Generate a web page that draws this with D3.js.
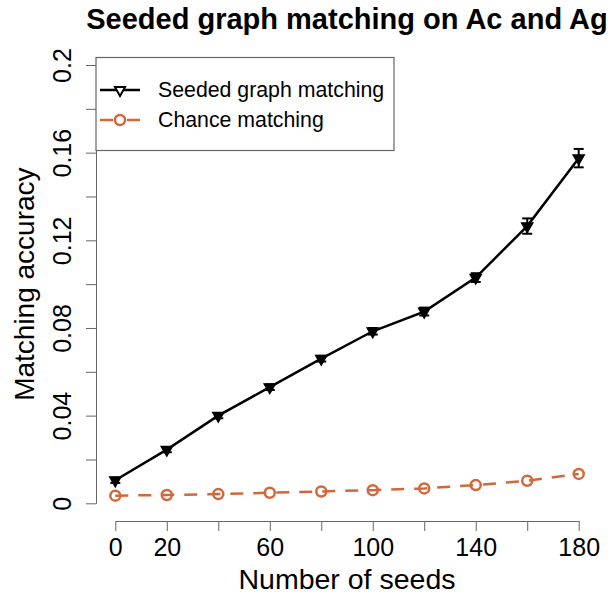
<!DOCTYPE html>
<html>
<head>
<meta charset="utf-8">
<script src="https://cdn.jsdelivr.net/npm/d3@7"></script>
<style>
  body { margin: 0; background: #fff; }
  svg { display: block; font-family: "Liberation Sans", Arial, sans-serif; }
</style>
</head>
<body>
<svg width="611" height="596"></svg>
<script>
// Data
const seeds = [0, 20, 40, 60, 80, 100, 120, 140, 160, 180];
const seededAcc = [0.0105, 0.0245, 0.0400, 0.0530, 0.0660, 0.0785, 0.0875, 0.1030, 0.1265, 0.1575];
const seededErr = [0.0012, 0.0012, 0.0012, 0.0013, 0.0013, 0.0015, 0.0018, 0.0020, 0.0035, 0.0042];
const chanceAcc = [0.0035, 0.0038, 0.0042, 0.0048, 0.0054, 0.0060, 0.0068, 0.0083, 0.0103, 0.0134];

const xLabeled = [0, 20, 60, 100, 140, 180];
const yTicks = [0, 0.02, 0.04, 0.06, 0.08, 0.10, 0.12, 0.14, 0.16, 0.18, 0.2];
const yLabeled = [0, 0.04, 0.08, 0.12, 0.16, 0.2];
const legendLabels = ["Seeded graph matching", "Chance matching"];

const svg = d3.select("svg");
const orange = "#d2673b";
const axisColor = "#666";

//Scales
const x = d3.scaleLinear().domain([0, 180]).range([115.3, 578.7]);
const y = d3.scaleLinear().domain([0, 0.2]).range([503.3, 65]);
const axisY = 521;
const axisX = 96;

//Title
svg.append("text")
    .attr("x", (x.range()[0] + x.range()[1]) / 2)
    .attr("y", 29)
    .attr("text-anchor", "middle")
    .attr("font-size", "29px")
    .attr("font-weight", "bold")
    .text("Seeded graph matching on Ac and Ag");

//X axis
const xAxis = svg.append("g")
    .attr("transform", `translate(0, ${axisY})`)
    .call(d3.axisBottom(x)
        .tickValues(seeds)
        .tickSize(10)
        .tickSizeOuter(0)
        .tickFormat(d => xLabeled.includes(d) ? d : ""));
xAxis.select(".domain").attr("stroke", axisColor);
xAxis.selectAll(".tick line").attr("stroke", axisColor);
xAxis.selectAll(".tick text")
    .attr("y", 35)
    .attr("dy", 0)
    .attr("fill", "black")
    .attr("font-size", "25px")
    .attr("font-family", null);

//Y axis, labels rotated like R's default
const yAxis = svg.append("g")
    .attr("transform", `translate(${axisX}, 0)`)
    .call(d3.axisLeft(y)
        .tickValues(yTicks)
        .tickSize(10)
        .tickSizeOuter(0)
        .tickFormat(d => yLabeled.some(v => Math.abs(v - d) < 1e-9) ? String(+d.toFixed(2)) : ""));
yAxis.select(".domain").attr("stroke", axisColor);
yAxis.selectAll(".tick line").attr("stroke", axisColor);
yAxis.selectAll(".tick text")
    .attr("x", 0)
    .attr("dy", 0)
    .attr("text-anchor", "middle")
    .attr("transform", "translate(-25, 0) rotate(-90)")
    .attr("fill", "black")
    .attr("font-size", "25px")
    .attr("font-family", null);

//Axis titles
svg.append("text")
    .attr("x", (x.range()[0] + x.range()[1]) / 2)
    .attr("y", 589)
    .attr("text-anchor", "middle")
    .attr("font-size", "28.5px")
    .text("Number of seeds");

svg.append("text")
    .attr("transform", `translate(34, ${(y.range()[0] + y.range()[1]) / 2}) rotate(-90)`)
    .attr("text-anchor", "middle")
    .attr("font-size", "28px")
    .text("Matching accuracy");

//Chance matching line
const chanceData = seeds.map((s, i) => ({ s, v: chanceAcc[i] }));
svg.append("path")
    .datum(chanceData)
    .attr("d", d3.line().x(d => x(d.s)).y(d => y(d.v)))
    .attr("fill", "none")
    .attr("stroke", orange)
    .attr("stroke-width", 2.5)
    .attr("stroke-dasharray", "13,10");

svg.selectAll(".chance")
    .data(chanceData)
    .enter()
    .append("circle")
    .attr("class", "chance")
    .attr("cx", d => x(d.s))
    .attr("cy", d => y(d.v))
    .attr("r", 5)
    .attr("fill", "none")
    .attr("stroke", orange)
    .attr("stroke-width", 2.5);

//Seeded matching line with error bars
const seededData = seeds.map((s, i) => ({ s, v: seededAcc[i], e: seededErr[i] }));
svg.append("path")
    .datum(seededData)
    .attr("d", d3.line().x(d => x(d.s)).y(d => y(d.v)))
    .attr("fill", "none")
    .attr("stroke", "black")
    .attr("stroke-width", 2.5);

const bars = svg.selectAll(".err")
    .data(seededData)
    .enter()
    .append("g")
    .attr("class", "err")
    .attr("stroke", "black")
    .attr("stroke-width", 2);
bars.append("line")
    .attr("x1", d => x(d.s)).attr("x2", d => x(d.s))
    .attr("y1", d => y(d.v - d.e)).attr("y2", d => y(d.v + d.e));
bars.append("line")
    .attr("x1", d => x(d.s) - 5).attr("x2", d => x(d.s) + 5)
    .attr("y1", d => y(d.v - d.e)).attr("y2", d => y(d.v - d.e));
bars.append("line")
    .attr("x1", d => x(d.s) - 5).attr("x2", d => x(d.s) + 5)
    .attr("y1", d => y(d.v + d.e)).attr("y2", d => y(d.v + d.e));

const tri = d3.symbol(d3.symbolTriangle, 45);
svg.selectAll(".seeded")
    .data(seededData)
    .enter()
    .append("path")
    .attr("class", "seeded")
    .attr("d", tri)
    .attr("transform", d => `translate(${x(d.s)}, ${y(d.v)}) rotate(180)`)
    .attr("fill", "black")
    .attr("stroke", "black")
    .attr("stroke-width", 2);

//Legend
const legend = svg.append("g");
legend.append("rect")
    .attr("x", 96)
    .attr("y", 57.5)
    .attr("width", 298)
    .attr("height", 93)
    .attr("fill", "white")
    .attr("stroke", axisColor)
    .attr("stroke-width", 1.2);

legend.append("line")
    .attr("x1", 100).attr("x2", 140)
    .attr("y1", 90).attr("y2", 90)
    .attr("stroke", "black")
    .attr("stroke-width", 2.5);
legend.append("path")
    .attr("d", tri)
    .attr("transform", "translate(120, 90) rotate(180)")
    .attr("fill", "white")
    .attr("stroke", "black")
    .attr("stroke-width", 2);

legend.append("line")
    .attr("x1", 100).attr("x2", 140)
    .attr("y1", 120).attr("y2", 120)
    .attr("stroke", orange)
    .attr("stroke-width", 2.5)
    .attr("stroke-dasharray", "13,14");
legend.append("circle")
    .attr("cx", 120)
    .attr("cy", 120)
    .attr("r", 5)
    .attr("fill", "none")
    .attr("stroke", orange)
    .attr("stroke-width", 2.5);

legend.selectAll(".legend-label")
    .data(legendLabels)
    .enter()
    .append("text")
    .attr("class", "legend-label")
    .attr("x", 158)
    .attr("y", (d, i) => 97 + i * 30)
    .attr("font-size", "21.3px")
    .text(d => d);
</script>
</body>
</html>
